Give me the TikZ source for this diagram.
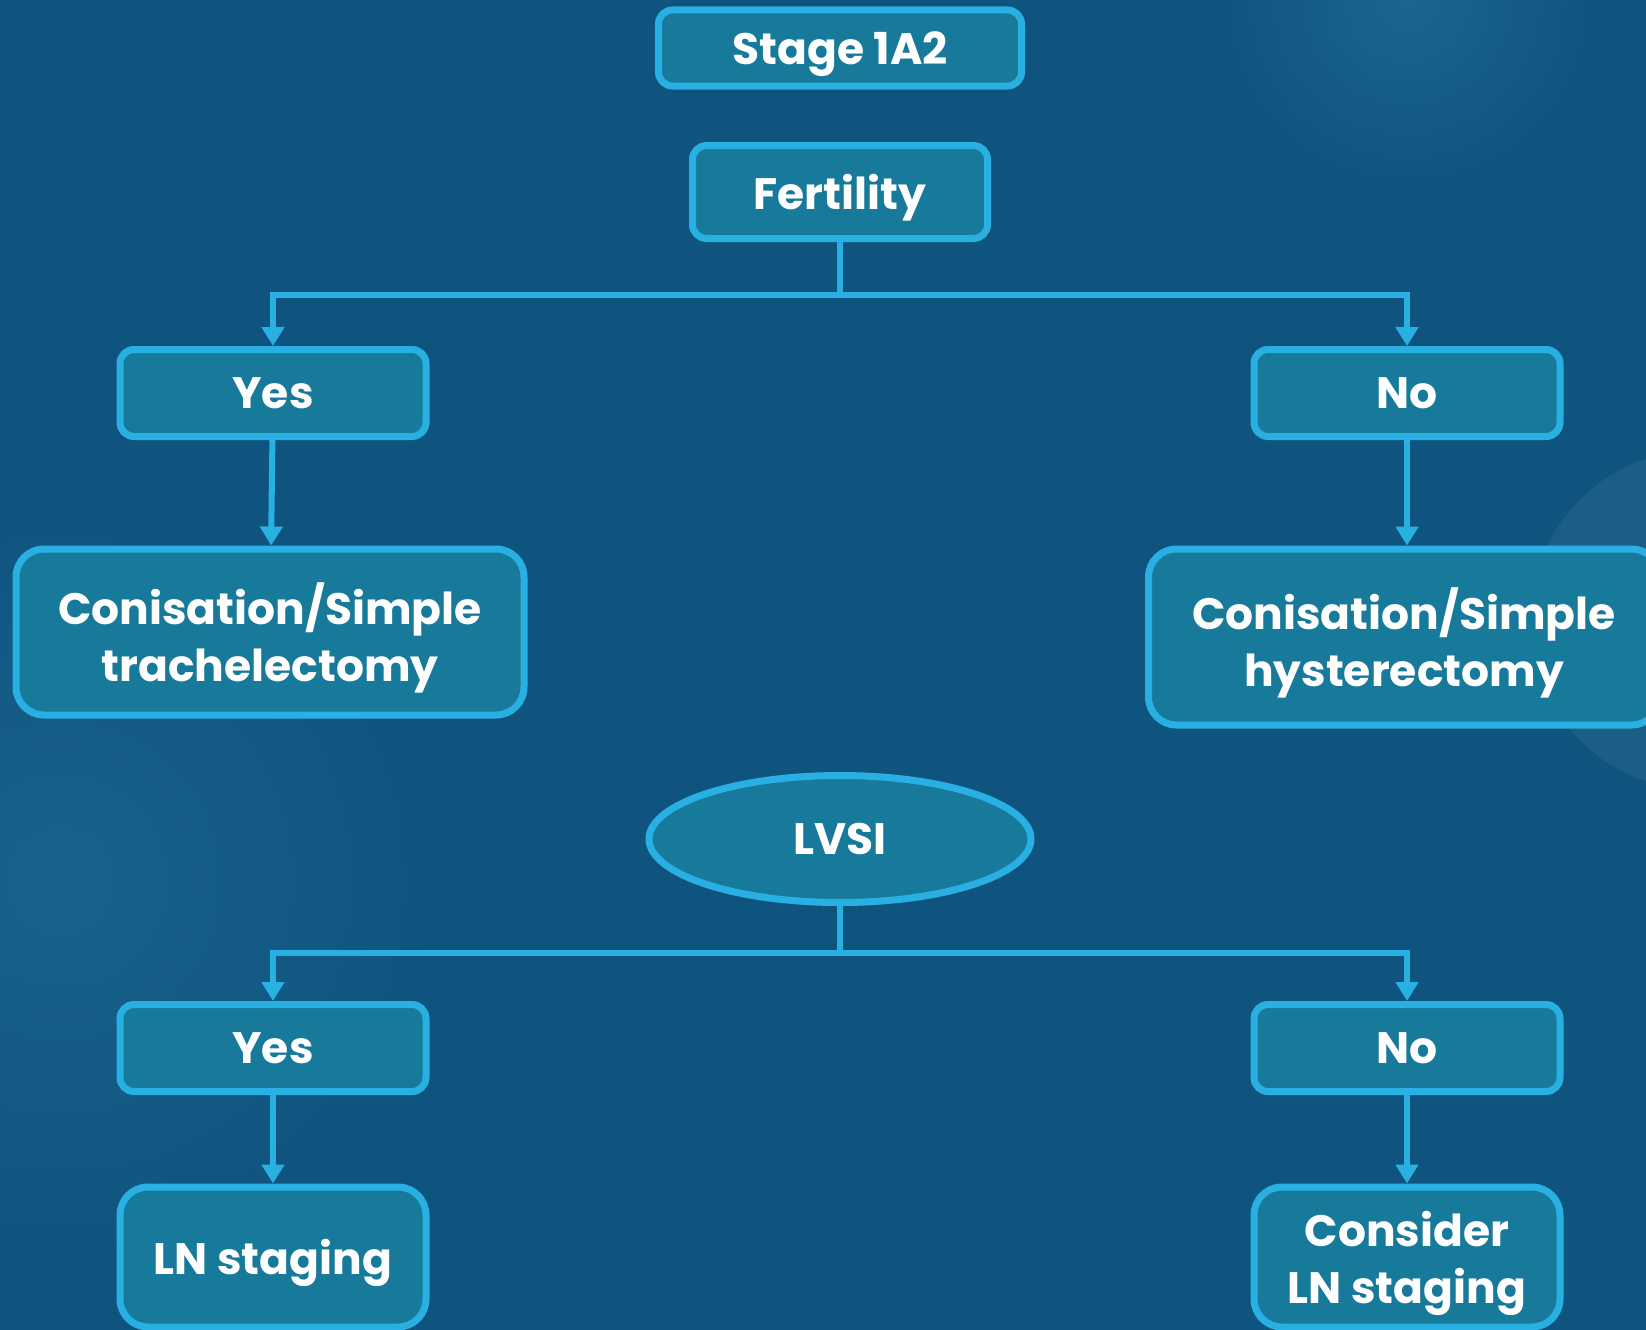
\documentclass[tikz,border=0pt]{standalone}
\usepackage{fontspec}
\setmainfont{Poppins}
\usetikzlibrary{arrows.meta,shapes.geometric,positioning}
\definecolor{bgblue}{HTML}{0F547E}
\definecolor{glowblue}{HTML}{1A6690}
\definecolor{boxfill}{HTML}{177A9B}
\definecolor{boxline}{HTML}{29B0E3}
\tikzset{
	box/.style={draw=boxline, fill=boxfill, line width=7pt, rounded corners=14pt,
		text=white, font=\fontsize{44}{57}\selectfont\bfseries, align=center,
		text depth=0pt, minimum width=306pt, minimum height=87pt, inner sep=0pt},
	bigbox/.style={box, rounded corners=28pt},
	link/.style={draw=boxline, line width=6pt},
	conn/.style={link, -{Triangle[width=22pt,length=19pt]}},
}

\begin{document}
\begin{tikzpicture}[x=1pt, y=-1pt]
			%%%%% START %%%%%
			
			\fill[bgblue] (0, 0) rectangle (1646, 1330);
			\useasboundingbox (0, 0) rectangle (1646, 1330);
			\shade[inner color=glowblue, outer color=bgblue] (1407, 0) circle (190);
			\shade[inner color=glowblue!80!bgblue, outer color=bgblue] (60, 880) circle (380);
			\fill[bgblue!95!white] (1700, 620) circle (170);
			
			\node[box, minimum width=363pt, minimum height=76pt] (stage) at (840, 48) {Stage 1A2};
			\node[box, minimum width=295pt, minimum height=93pt] (fert) at (840, 192) {Fertility};
			
			\node[box] (yesA) at (273, 393) {Yes};
			\node[box] (noA) at (1407, 393) {No};
			
			\node[bigbox, minimum width=508pt, minimum height=166pt] (conA) at (270, 632) {Conisation/Simple\\trachelectomy};
			\node[bigbox, minimum width=511pt, minimum height=176pt] (conB) at (1404, 637) {Conisation/Simple\\hysterectomy};
			
			\node[box, ellipse, minimum width=382pt, minimum height=127pt] (lvsi) at (840, 839) {LVSI};
			
			\node[box] (yesB) at (273, 1048) {Yes};
			\node[box] (noB) at (1407, 1048) {No};
			
			\node[bigbox, minimum height=140pt] (ln) at (273, 1257) {LN staging};
			\node[bigbox, minimum height=140pt] (lnB) at (1407, 1257) {Consider\\LN staging};
			
			\coordinate (forkA) at (840, 295);
			\coordinate (forkB) at (840, 953);
			
			\draw[link] (fert) -- (forkA);
			\draw[conn] (forkA) -| (yesA);
			\draw[conn] (forkA) -| (noA);
			\draw[conn] (yesA) -- (conA);
			\draw[conn] (noA) -- (noA |- conB.north);
			
			\draw[link] (lvsi) -- (forkB);
			\draw[conn] (forkB) -| (yesB);
			\draw[conn] (forkB) -| (noB);
			\draw[conn] (yesB) -- (ln);
			\draw[conn] (noB) -- (lnB);
			
			%%%%% END %%%%%
		\end{tikzpicture}
\end{document}
